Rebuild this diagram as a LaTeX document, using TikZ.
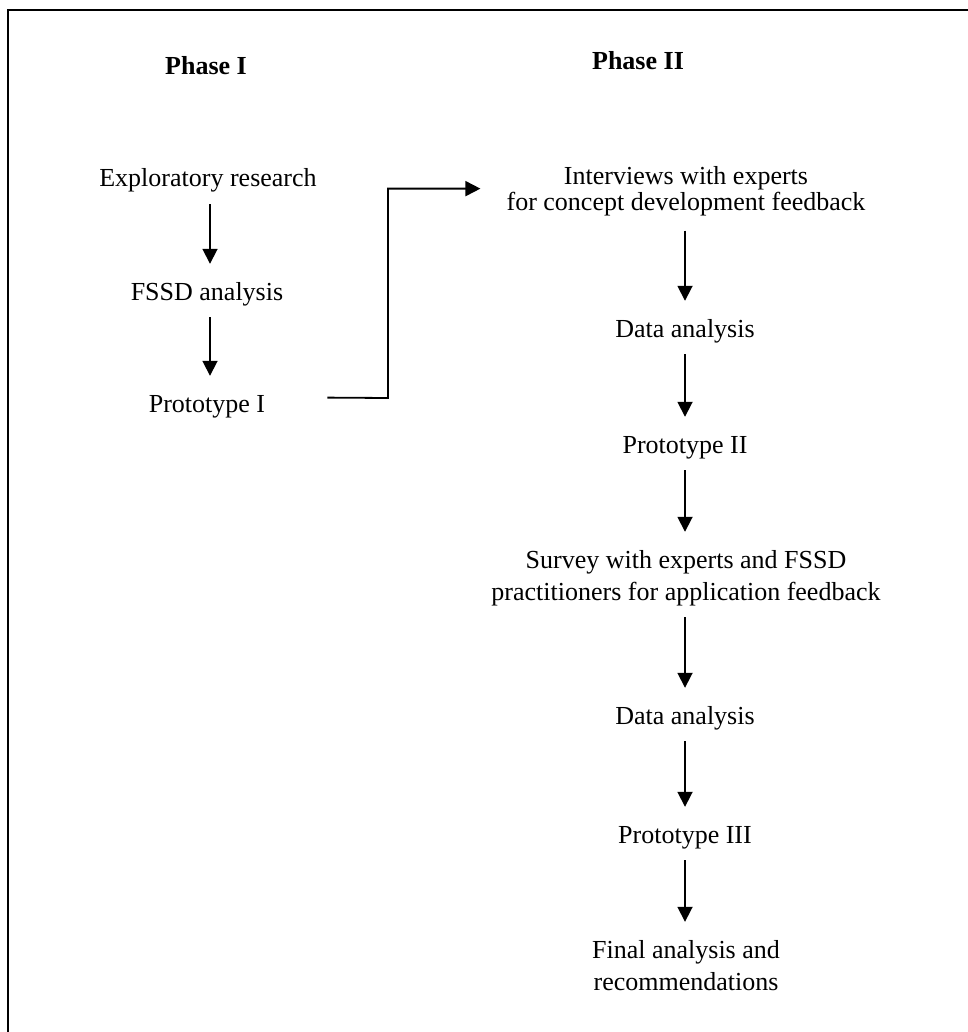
\documentclass[tikz,border=0pt]{standalone}
\usepackage{fontspec}
\setmainfont{Liberation Serif}
\usetikzlibrary{arrows.meta}

% one or more centred lines; the node's baseline is that of the first line
\newcommand\stacklines[1]{\begin{tabular}[t]{@{}c@{}}#1\end{tabular}}

\begin{document}
\begin{tikzpicture}[x=1pt,y=-1pt,
  txt/.style={inner sep=0pt, anchor=base, font=\fontsize{26}{32}\selectfont},
  phase/.style={inner sep=0pt, anchor=base, font=\fontsize{26}{32}\selectfont\bfseries},
  flow/.style={line width=1.8pt, -{Triangle[width=15pt,length=15pt]},
               shorten <=7.4pt, shorten >=13.6pt},
  frame/.style={line width=2.7pt, line join=miter}]

\useasboundingbox (0,0) rectangle (967,1032);

% open frame: left and top edges
\draw[frame] (8,1040) -- (8,10) -- (975,10);

% phase headings
\node[phase] (ph1) at (206,75) {Phase I};
\node[phase] (ph2) at (638,70) {Phase II};

% phase I column
\node[txt] (er)  at (208,187) {\stacklines{Exploratory research}};
\node[txt] (fa)  at (207,300) {\stacklines{FSSD analysis}};
\node[txt] (p1)  at (207,412) {\stacklines{Prototype I}};

% phase II column
\node[txt, font=\fontsize{26}{25}\selectfont] (iv) at (686,185)
  {\stacklines{Interviews with experts\\for concept development feedback}};
\node[txt] (da1) at (685,337) {\stacklines{Data analysis}};
\node[txt] (p2)  at (685,453) {\stacklines{Prototype II}};
\node[txt] (sv)  at (686,568)
  {\stacklines{Survey with experts and FSSD\\practitioners for application feedback}};
\node[txt] (da2) at (685,724) {\stacklines{Data analysis}};
\node[txt] (p3)  at (685,843) {\stacklines{Prototype III}};
\node[txt] (fin) at (686,958)
  {\stacklines{Final analysis and\\recommendations}};

% vertical flow arrows
\draw[flow] (er.south -| 210,0) -- (fa.north -| 210,0);
\draw[flow] (fa.south -| 210,0) -- (p1.north -| 210,0);
\draw[flow, shorten <=12pt] (iv.south -| 685,0) -- (da1.north -| 685,0);
\draw[flow] (da1.south -| 685,0) -- (p2.north -| 685,0);
\draw[flow] (p2.south -| 685,0) -- (sv.north -| 685,0);
\draw[flow] (sv.south -| 685,0) -- (da2.north -| 685,0);
\draw[flow] (da2.south -| 685,0) -- (p3.north -| 685,0);
\draw[flow] (p3.south -| 685,0) -- (fin.north -| 685,0);

% link from phase I to phase II
\coordinate (bend) at (388,398);
\draw[line width=1.8pt, -{Triangle[width=15pt,length=15pt]}]
  ([shift={(62,-8)}]p1.east) -- (bend) |- ([shift={(-26,-4)}]iv.west);

\end{tikzpicture}
\end{document}
